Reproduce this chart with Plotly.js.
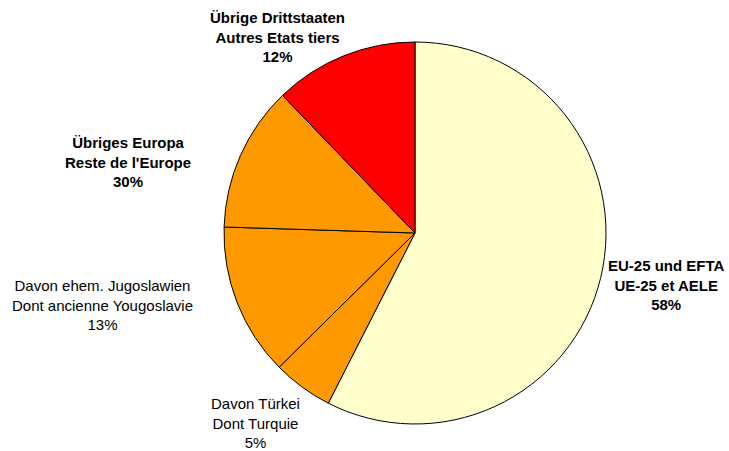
<!DOCTYPE html>
<html>
<head>
<meta charset="utf-8">
<script src="https://cdn.plot.ly/plotly-3.0.1.min.js"></script>
<style>html,body{margin:0;padding:0;background:#fff;}#chart{width:729px;height:451px;}</style>
</head>
<body>
<div id="chart"></div>
<script>
// Data (clockwise from 12 o'clock)
const categories = ["EU-25 und EFTA", "Davon Türkei", "Davon ehem. Jugoslawien", "Übriges Europa (Rest)", "Übrige Drittstaaten"];
const values = [57.5, 5.1, 12.9, 12.3, 12.2];
const colors = ["#FFFFCC", "#FF9900", "#FF9900", "#FF9900", "#FF0000"];
// Label texts shown next to the pie
const labelLines = [
  ["EU-25 und EFTA", "UE-25 et AELE", "58%"],
  ["Davon Türkei", "Dont Turquie", "5%"],
  ["Davon ehem. Jugoslawien", "Dont ancienne Yougoslavie", "13%"],
  ["Übriges Europa", "Reste de l'Europe", "30%"],
  ["Übrige Drittstaaten", "Autres Etats tiers", "12%"]
];
const labelBold = [true, false, false, true, true];

const W = 729, H = 451;
const labelPos = [ [666, 285], [255, 423], [102, 305], [128, 162], [277, 37] ];

const annotations = labelLines.map((lines, i) => {
  let t = lines.join("<br>");
  if (labelBold[i]) t = "<b>" + t + "</b>";
  return {
    text: t, showarrow: false, xref: "paper", yref: "paper",
    x: labelPos[i][0] / W, y: 1 - labelPos[i][1] / H,
    xanchor: "center", yanchor: "middle", align: "center",
    font: {family: "Liberation Sans, Arial, sans-serif", size: 15, color: "#000"}
  };
});

const trace = {
  type: "pie",
  labels: categories,
  values: values,
  sort: false,
  direction: "clockwise",
  rotation: 0,
  textinfo: "none",
  hoverinfo: "label+percent",
  marker: {colors: colors, line: {color: "#000", width: 1}},
  domain: {x: [(415 - 191) / W, (415 + 191) / W], y: [1 - (233 + 191) / H, 1 - (233 - 191) / H]}
};

const layout = {
  width: W, height: H,
  margin: {l: 0, r: 0, t: 0, b: 0},
  showlegend: false,
  paper_bgcolor: "#fff",
  annotations: annotations
};

Plotly.newPlot("chart", [trace], layout, {displayModeBar: false, staticPlot: true});
</script>
</body>
</html>
